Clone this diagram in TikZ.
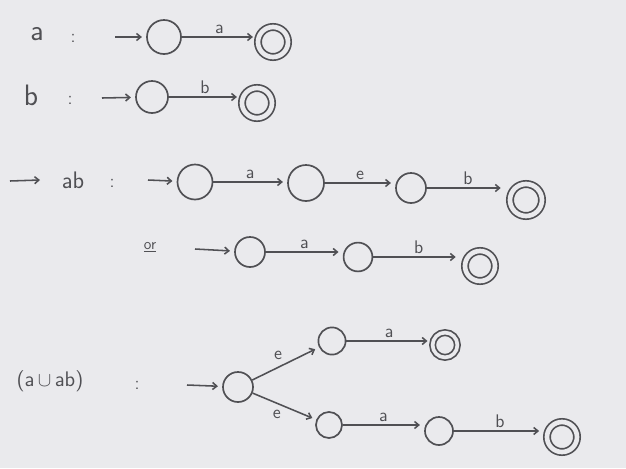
\documentclass[tikz,border=0pt]{standalone}
\usetikzlibrary{positioning,arrows.meta}
\definecolor{board}{RGB}{234,234,237}
\definecolor{ink}{RGB}{80,80,84}

\begin{document}
\begin{tikzpicture}[x=0.025cm,y=-0.025cm,
    st/.style={circle,draw=ink,line width=1.2pt,minimum size=0.8cm,inner sep=0pt},
    fin/.style={st,double=board,double distance=3.3pt,minimum size=0.75cm},
    tr/.style={draw=ink,line width=1.1pt,-{Straight Barb[length=3pt,width=5pt]},shorten >=3pt},
    lbl/.style={text=ink,font=\sffamily\fontsize{13}{13}\selectfont,inner sep=2pt},
    big/.style={text=ink,font=\sffamily\fontsize{21}{21}\selectfont}]
\fill[board] (0,0) rectangle (626,468);

% a
\node[big] (ta) at (37,34) {a};
\node[lbl] (ca) at (73,38) {:};
\coordinate (ia) at (115,37);
\node[st,minimum size=0.85cm] (qa0) at (164,37) {};
\node[fin] (qa1) at (273,42) {};
\draw[tr] (ia) -- (qa0);
\draw[tr] (qa0.east) -- node[lbl,above] {a} (qa0.east -| qa1.west);

% b
\node[big] (tb) at (31,95) {b};
\node[lbl] (cb) at (70,100) {:};
\coordinate (ib) at (102,98);
\node[st] (qb0) at (152,97) {};
\node[fin] (qb1) at (257,103) {};
\draw[tr] (ib) -- (qb0);
\draw[tr] (qb0.east) -- node[lbl,above] {b} (qb0.east -| qb1.west);

% ab
\coordinate (h0) at (10,181);
\coordinate (h1) at (40,180);
\draw[tr,shorten >=0pt] (h0) -- (h1);
\node[big,font=\sffamily\fontsize{17}{17}\selectfont] (tab) at (73,180) {ab};
\node[lbl] (cab) at (112,183) {:};
\coordinate (iab) at (148,180);
\node[st,minimum size=0.875cm] (p0) at (195,182) {};
\node[st,minimum size=0.9cm] (p1) at (306,183) {};
\node[st,minimum size=0.75cm] (p2) at (411,188) {};
\node[fin,minimum size=0.8cm] (p3) at (526,200) {};
\draw[tr] (iab) -- (p0);
\draw[tr] (p0.east) -- node[lbl,above] {a} (p0.east -| p1.west);
\draw[tr] (p1.east) -- node[lbl,above] {e} (p1.east -| p2.west);
\draw[tr,shorten >=6pt] (p2.east) -- node[lbl,above] {b} (p2.east -| p3.west);

% or
\node[lbl,font=\sffamily\fontsize{11}{11}\selectfont] (tor) at (150,247) {\underline{or}};
\coordinate (ior) at (195,249);
\node[st,minimum size=0.75cm] (r0) at (250,252) {};
\node[st,minimum size=0.72cm] (r1) at (358,257) {};
\node[fin] (r2) at (480,266) {};
\draw[tr] (ior) -- (r0);
\draw[tr] (r0.east) -- node[lbl,above] {a} (r0.east -| r1.west);
\draw[tr,shorten >=6pt] (r1.east) -- node[lbl,above] {b} (r1.east -| r2.west);

% a u ab
\node[lbl,font=\sffamily\fontsize{15}{15}\selectfont] (tu) at (50,381) {(a$\,\cup\,$ab)};
\node[lbl] (cu) at (137,385) {:};
\coordinate (iu) at (187,385);
\node[st,minimum size=0.75cm] (u0) at (238,387) {};
\node[st,minimum size=0.68cm] (u1) at (332,341) {};
\node[fin,minimum size=0.62cm,double distance=2.6pt] (u2) at (445,345) {};
\node[st,minimum size=0.65cm] (u3) at (329,425) {};
\node[st,minimum size=0.7cm] (u4) at (439,431) {};
\node[fin] (u5) at (562,437) {};
\draw[tr] (iu) -- (u0);
\draw[tr] (u0) -- node[lbl,above left] {e} (u1);
\draw[tr] (u1.east) -- node[lbl,above] {a} (u1.east -| u2.west);
\draw[tr] (u0) -- node[lbl,below left] {e} (u3);
\draw[tr] (u3.east) -- node[lbl,above] {a} (u3.east -| u4.west);
\draw[tr,shorten >=5pt] (u4.east) -- node[lbl,above] {b} (u4.east -| u5.west);
\end{tikzpicture}
\end{document}
